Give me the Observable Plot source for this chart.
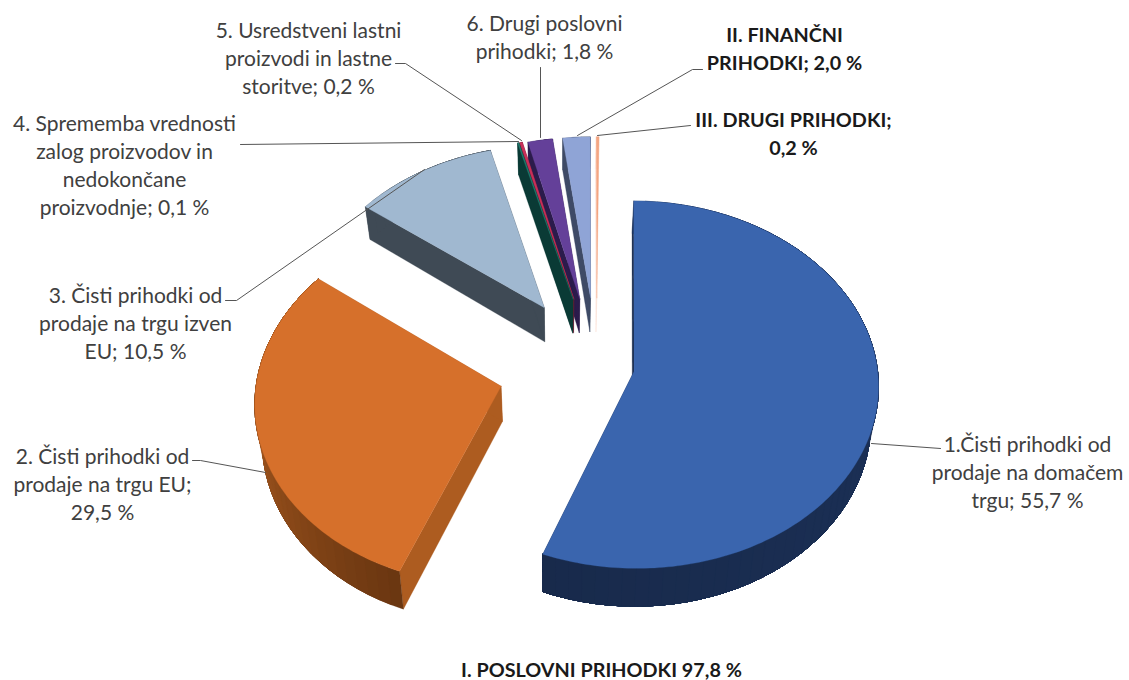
<!DOCTYPE html>
<html>
<head>
<meta charset="utf-8">
<style>html,body{margin:0;padding:0;background:#fff}svg{display:block}</style>
<script src="https://cdn.jsdelivr.net/npm/d3@7"></script>
<script src="https://cdn.jsdelivr.net/npm/@observablehq/plot@0.6"></script>
</head>
<body>
<div id="chart"></div>
<script>
// Chart values
const categories = ["1.Čisti prihodki od prodaje na domačem trgu","2. Čisti prihodki od prodaje na trgu EU","3. Čisti prihodki od prodaje na trgu izven EU","4. Sprememba vrednosti zalog proizvodov in nedokončane proizvodnje","5. Usredstveni lastni proizvodi in lastne storitve","6. Drugi poslovni prihodki","II. FINANČNI PRIHODKI","III. DRUGI PRIHODKI"];
const shares = [55.7, 29.5, 10.5, 0.1, 0.2, 1.8, 2.0, 0.2];
const explode = [0.157, 0.405, 0.395, 0.39, 0.39, 0.385, 0.385, 0.385];
// Colours
const topColors = ["#3A65AE","#D6702B","#A0B8D0","#1F7A6E","#C8305A","#644099","#8FA4D6","#F4A582"];
const sideColors = ["#182A4B","#AD5C20","#3F4A55","#0A3A35","#6E1A32","#2B1B4B","#3E4A66","#FBE3D8"];
const rimStart = ["#1E3560","#6B3711","#3F4A55","#0A3A35","#6E1A32","#2B1B4B","#3E4A66","#FBE3D8"];
const rimEnd = ["#182A4B","#A85A20","#3F4A55","#0A3A35","#6E1A32","#2B1B4B","#3E4A66","#FBE3D8"];
// Labels
const labelTexts = ["1.Čisti prihodki od\nprodaje na domačem\ntrgu; 55,7 %","2. Čisti prihodki od\nprodaje na trgu EU;\n29,5 %","3. Čisti prihodki od\nprodaje na trgu izven\nEU; 10,5 %","4. Sprememba vrednosti\nzalog proizvodov in\nnedokončane\nproizvodnje; 0,1 %","5. Usredstveni lastni\nproizvodi in lastne\nstoritve; 0,2 %","6. Drugi poslovni\nprihodki; 1,8 %","II. FINANČNI\nPRIHODKI; 2,0 %","III. DRUGI PRIHODKI;\n0,2 %"];
const labelBold = [false,false,false,false,false,false,true,true];
const labelX = [1027,102,135,124,308,544,784,793];
const labelY = [471,483,322,164,57,36,47,132];
const footer = "I. POSLOVNI PRIHODKI 97,8 %";
// Leader line layout
const leaders = [
  [[871,443],[940,448]],
  [[192,460],[200,460],[265,472]],
  [[225,300],[236,300],[424,169]],
  [[240,144],[518,141]],
  [[395,63],[405,63],[521,140]],
  [[540,67],[540,137]],
  [[702,69],[692,69],[577,135]],
  [[690,125],[597,135]]
];
// View parameters of the tilted pie
const view = {cx:596, cy:365.5, R:243, kR:182, p:0.072, depth:35, nadirX:560, shrink:0.024, rot:0.01};

function project(X, Z, h=0) {
  const s = 1 / (1 + view.p * Z);
  const x = view.cx + view.R * X * s;
  return {px: x - (x - view.nadirX) * view.shrink * h / view.depth, py: view.cy - view.kR * Z * s + h * s};
}
const arcs = d3.pie().sort(null).startAngle(view.rot).endAngle(2*Math.PI + view.rot)(shares);
const polys = [];
function addPoly(id, fill, pts){ [...pts, pts[0]].forEach(p => polys.push({id, fill, ...p})); }
const drawOrder = [7,6,5,4,3,2,1,0];
for (const i of drawOrder) {
  const a0 = arcs[i].startAngle, a1 = arcs[i].endAngle, m = (a0+a1)/2;
  const ox = explode[i]*Math.sin(m), oz = explode[i]*Math.cos(m);
  const pt = (t,h) => project(ox+Math.sin(t), oz+Math.cos(t), h);
  const apex = h => project(ox, oz, h);
  const d = view.depth;
  addPoly(`r0${i}`, sideColors[i], [apex(0), pt(a0,0), pt(a0,d), apex(d)]);
  addPoly(`r1${i}`, sideColors[i], [apex(0), pt(a1,0), pt(a1,d), apex(d)]);
  const n = Math.max(2, Math.ceil((a1-a0)/(Math.PI/60)));
  const shade = d3.interpolateRgb(rimStart[i], rimEnd[i]);
  const vis = d3.scaleLinear([a0, Math.min(a1, 3*Math.PI/2)], [0,1]).clamp(true);
  // each rim band runs on to the slice's far end, so the next band paints over it and no seam shows
  for (let k=0;k<n;k++){
    const t0=a0+(a1-a0)*k/n;
    const band=[];
    for (let j=k;j<=n;j++) band.push(pt(a0+(a1-a0)*j/n,0));
    for (let j=n;j>=k;j--) band.push(pt(a0+(a1-a0)*j/n,d));
    addPoly(`s${i}-${k}`, shade(vis(t0)), band);
  }
  const top=[apex(0)];
  const nt=Math.max(2, Math.ceil((a1-a0)/(Math.PI/180)));
  for(let k=0;k<=nt;k++) top.push(pt(a0+(a1-a0)*k/nt,0));
  addPoly(`t${i}`, topColors[i], top);
}
const leaderPts = leaders.flatMap((l,i)=>l.map(([x,y])=>({i,x,y})));
const labelData = labelTexts.map((text,i)=>({text,x:labelX[i],y:labelY[i],bold:labelBold[i]}));
const font = "Lato";
const fs = 21, fb = 19.8;

const chart = Plot.plot({
  width:1129, height:680,
  margin:0,
  x:{axis:null, domain:[0,1129], range:[0,1129]},
  y:{axis:null, domain:[0,680], range:[0,680]},
  marks:[
    Plot.line(polys,{x:"px",y:"py",z:"id",fill:"fill",stroke:"fill",strokeWidth:0.3,curve:"linear"}),
    Plot.line(leaderPts,{x:"x",y:"y",z:"i",stroke:"#555",strokeWidth:1,curve:"linear"}),
    Plot.text(labelData.filter(d=>!d.bold),{x:"x",y:"y",text:"text",fill:"#404040",fontFamily:font,fontSize:fs,lineHeight:28/fs,textAnchor:"middle",lineAnchor:"middle"}),
    Plot.text(labelData.filter(d=>d.bold),{x:"x",y:"y",text:"text",fill:"#1a1a1a",fontWeight:"bold",fontFamily:font,fontSize:fb,lineHeight:28/fb,textAnchor:"middle",lineAnchor:"middle"}),
    Plot.text([footer],{x:()=>601,y:()=>670,text:d=>d,fill:"#1a1a1a",fontWeight:"bold",fontFamily:font,fontSize:fb,textAnchor:"middle",lineAnchor:"middle"})
  ]
});
document.getElementById("chart").append(chart);
</script>
</body>
</html>
